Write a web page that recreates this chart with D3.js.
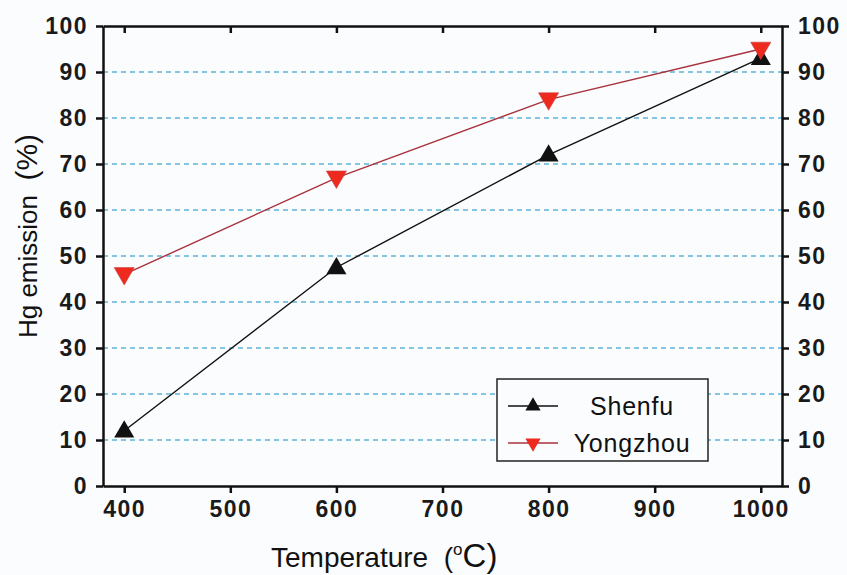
<!DOCTYPE html>
<html>
<head>
<meta charset="utf-8">
<script src="https://cdn.jsdelivr.net/npm/d3@7"></script>
<style>
  body { margin: 0; background: #fbfcfe; }
  text { font-family: "Liberation Sans", Arial, sans-serif; fill: #111; white-space: pre; }
</style>
</head>
<body>
<div id="chart"></div>
<script>
// data
var temperatures = [400, 600, 800, 1000];
var shenfu = [12, 47.5, 72, 93];
var yongzhou = [46, 67, 84, 95];
var xTicks = [400, 500, 600, 700, 800, 900, 1000];
var yTicks = [0, 10, 20, 30, 40, 50, 60, 70, 80, 90, 100];
var gridTicks = [10, 20, 30, 40, 50, 60, 70, 80, 90];

var width = 847, height = 575;
var margin = {left: 103, right: 65, top: 26, bottom: 89};

var svg = d3.select("#chart").append("svg")
  .attr("width", width)
  .attr("height", height);

var x = d3.scaleLinear().domain([380, 1020]).range([margin.left, width - margin.right]);
var y = d3.scaleLinear().domain([0, 100]).range([height - margin.bottom, margin.top]);

// grid lines
svg.append("g").selectAll("line")
  .data(gridTicks)
  .enter().append("line")
  .attr("x1", x(380)).attr("x2", x(1020))
  .attr("y1", function(d){ return y(d); })
  .attr("y2", function(d){ return y(d); })
  .style("stroke", "#5fb3d6")
  .style("stroke-width", 1.3)
  .style("stroke-dasharray", "5,4");

// axes
function styleAxis(g){
  g.selectAll("path").style("stroke", "#111").style("stroke-width", 2.5);
  g.selectAll("line").style("stroke", "#111").style("stroke-width", 2.5);
  g.selectAll("text")
    .style("font-size", "23px")
    .style("font-weight", "bold")
    .style("letter-spacing", "1.5px")
    .style("fill", "#1a1a1a");
}

svg.append("g")
  .attr("transform", "translate(0," + y(0) + ")")
  .call(d3.axisBottom(x).tickValues(xTicks).tickFormat(d3.format("d")).tickSize(7).tickSizeOuter(0).tickPadding(8))
  .call(styleAxis);

svg.append("g")
  .attr("transform", "translate(0," + y(100) + ")")
  .call(d3.axisBottom(x).tickValues(xTicks).tickSize(7).tickSizeOuter(0).tickFormat(""))
  .call(styleAxis);

svg.append("g")
  .attr("transform", "translate(" + x(380) + ",0)")
  .call(d3.axisLeft(y).tickValues(yTicks).tickSize(7).tickSizeOuter(0).tickPadding(8))
  .call(styleAxis);

svg.append("g")
  .attr("transform", "translate(" + x(1020) + ",0)")
  .call(d3.axisRight(y).tickValues(yTicks).tickSize(7).tickSizeOuter(0).tickPadding(9))
  .call(styleAxis);

// lines
var line = d3.line()
  .x(function(d){ return x(d[0]); })
  .y(function(d){ return y(d[1]); });

var shenfuPts = d3.zip(temperatures, shenfu);
var yongPts = d3.zip(temperatures, yongzhou);

svg.append("path").datum(yongPts)
  .attr("d", line)
  .style("fill", "none").style("stroke", "#a8323c").style("stroke-width", 1.4);

svg.append("path").datum(shenfuPts)
  .attr("d", line)
  .style("fill", "none").style("stroke", "#111").style("stroke-width", 1.4);

var triUp = d3.symbol().type(d3.symbolTriangle).size(175);

svg.append("g").selectAll("path")
  .data(shenfuPts)
  .enter().append("path")
  .attr("d", triUp)
  .attr("transform", function(d){ return "translate(" + x(d[0]) + "," + (y(d[1]) + 1) + ")"; })
  .style("fill", "#111");

svg.append("g").selectAll("path")
  .data(yongPts)
  .enter().append("path")
  .attr("d", triUp)
  .attr("transform", function(d){ return "translate(" + x(d[0]) + "," + (y(d[1]) - 1) + ") rotate(180)"; })
  .style("fill", "#ee2a1f")
  .style("stroke", "#c84040")
  .style("stroke-width", 0.6);

// legend
var legend = svg.append("g");
legend.append("rect")
  .attr("x", 497).attr("y", 379).attr("width", 211).attr("height", 82)
  .style("fill", "#fbfcfe").style("stroke", "#222").style("stroke-width", 1.5);

var legendItems = [
  {name: "Shenfu", color: "#111", fill: "#111", rot: 0, yy: 406},
  {name: "Yongzhou", color: "#a8323c", fill: "#ee2a1f", rot: 180, yy: 443}
];
legendItems.forEach(function(d){
  legend.append("line")
    .attr("x1", 508).attr("x2", 558).attr("y1", d.yy).attr("y2", d.yy)
    .style("stroke", d.color).style("stroke-width", 1.4);
  legend.append("path")
    .attr("d", d3.symbol().type(d3.symbolTriangle).size(100))
    .attr("transform", "translate(533," + d.yy + ") rotate(" + d.rot + ")")
    .style("fill", d.fill);
  legend.append("text")
    .attr("x", 632).attr("y", d.yy + 9)
    .attr("text-anchor", "middle")
    .style("font-size", "25px")
    .style("letter-spacing", "0.8px")
    .text(d.name);
});

// axis titles
var xt = svg.append("text")
  .attr("x", 271).attr("y", 567)
  .style("font-size", "28px");
xt.append("tspan").text("Temperature  (");
xt.append("tspan").attr("dy", -12).style("font-size", "17px").text("o");
xt.append("tspan").attr("dy", 12).style("font-size", "33px").text("C)");

var yt = svg.append("text")
  .attr("transform", "translate(37,236) rotate(-90)")
  .attr("text-anchor", "middle")
  .style("font-size", "26px");
yt.append("tspan").text("Hg emission  ");
yt.append("tspan").style("font-size", "30px").text("(%)");
</script>
</body>
</html>
